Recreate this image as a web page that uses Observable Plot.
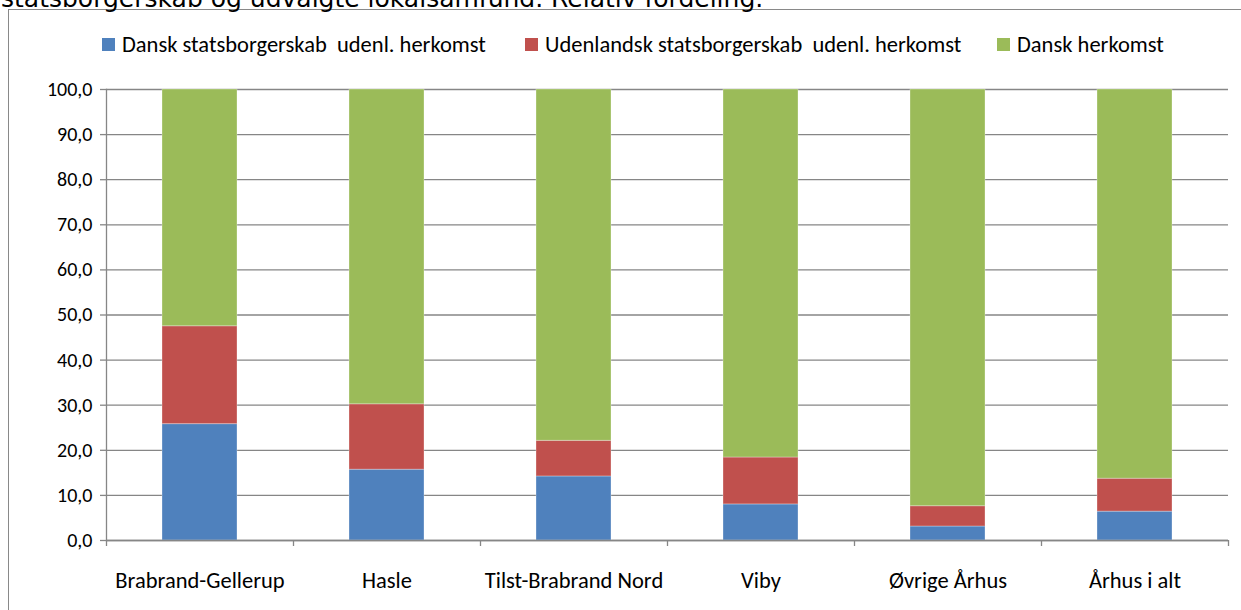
<!DOCTYPE html>
<html><head><meta charset="utf-8">
<script src="https://cdn.jsdelivr.net/npm/d3@7"></script>
<script src="https://cdn.jsdelivr.net/npm/@observablehq/plot@0.6"></script>
<style>
body{margin:0;background:#fff;}
#wrap{position:relative;width:1241px;height:610px;overflow:hidden;background:#fff;}
#chart{position:absolute;left:0;top:0;}
#title{position:absolute;left:1px;top:-14px;font-family:"DejaVu Sans";font-size:25px;line-height:25px;white-space:nowrap;color:#000;}
#border{position:absolute;left:8px;top:9px;width:1300px;height:700px;border:1.3px solid #898989;box-sizing:border-box;}
.item{position:absolute;top:31px;height:26px;display:flex;align-items:center;font-family:Carlito,Lato,sans-serif;font-size:22.5px;white-space:pre;color:#000;}
.sw{width:13px;height:13px;margin-right:7px;flex:none;}
</style></head>
<body>
<div id="wrap">
  <div id="chart"></div>
  <div id="border"></div>
  <div id="title"></div>
  <div id="legend"></div>
</div>
<script>
const titleText = "statsborgerskab og udvalgte lokalsamfund. Relativ fordeling.";
const categories = ["Brabrand-Gellerup","Hasle","Tilst-Brabrand Nord","Viby","Øvrige Århus","Århus i alt"];
const seriesNames = ["Dansk statsborgerskab  udenl. herkomst","Udenlandsk statsborgerskab  udenl. herkomst","Dansk herkomst"];
const danskStatsborgerskab = [25.8,15.7,14.2,8.0,3.1,6.4];
const udenlandskStatsborgerskab = [21.7,14.5,7.9,10.4,4.5,7.3];
const danskHerkomst = [52.5,69.8,77.9,81.6,92.4,86.3];
const yTicks = [0,10,20,30,40,50,60,70,80,90,100];
const seriesColors = ["#4F81BD","#C0504D","#9BBB59"];

document.getElementById("title").textContent = titleText;

const seriesValues = [danskStatsborgerskab, udenlandskStatsborgerskab, danskHerkomst];
const rows = [];
seriesNames.forEach((s, si) => categories.forEach((c, ci) => rows.push({cat: c, series: s, value: seriesValues[si][ci]})));

const W = 1241, H = 610, mL = 106, mR = 13, mT = 89, mB = 70;
const step = (W - mL - mR) / categories.length;
const grey = "#868686";

const chart = Plot.plot({
  width: W, height: H,
  marginLeft: mL, marginRight: mR, marginTop: mT, marginBottom: mB,
  style: {fontFamily: "Carlito, Lato, sans-serif", fontSize: "20px", background: "transparent", color: "#000"},
  x: {domain: categories, paddingInner: 0.6, paddingOuter: 0.3, label: null},
  y: {domain: [0, 100], label: null},
  color: {domain: seriesNames, range: seriesColors},
  marks: [
    Plot.gridY(yTicks, {stroke: grey, strokeOpacity: 1, strokeWidth: 1.3}),
    Plot.barY(rows, {x: "cat", y: "value", fill: "series", stroke: "#ffffff", strokeOpacity: 0.3, strokeWidth: 1}),
    Plot.frame({anchor: "left", stroke: grey, strokeWidth: 1.3}),
    Plot.ruleY([0], {stroke: grey, strokeWidth: 1.3}),
    Plot.axisY(yTicks, {tickSize: 6, tickPadding: 8, stroke: grey, strokeWidth: 1.3, fill: "#000", fontSize: 20, tickFormat: d => d.toFixed(1).replace(".", ","), label: null}),
    Plot.axisX(categories, {tickSize: 6, fill: "none", dx: -step / 2, stroke: grey, strokeWidth: 1.3, label: null}),
    Plot.axisX([categories[categories.length - 1]], {tickSize: 6, fill: "none", dx: step / 2, stroke: grey, strokeWidth: 1.3, label: null}),
    Plot.axisX(categories, {tickSize: 0, tickPadding: 32, fill: "#000", fontSize: 22.5, label: null})
  ]
});
document.getElementById("chart").appendChild(chart);

// legend
const legendX = [102, 525, 997];
const legend = document.getElementById("legend");
seriesNames.forEach((s, i) => {
  const item = document.createElement("div");
  item.className = "item";
  item.style.left = legendX[i] + "px";
  const sw = document.createElement("span");
  sw.className = "sw";
  sw.style.background = seriesColors[i];
  const t = document.createElement("span");
  t.textContent = s;
  item.appendChild(sw); item.appendChild(t);
  legend.appendChild(item);
});
</script>
</body></html>
